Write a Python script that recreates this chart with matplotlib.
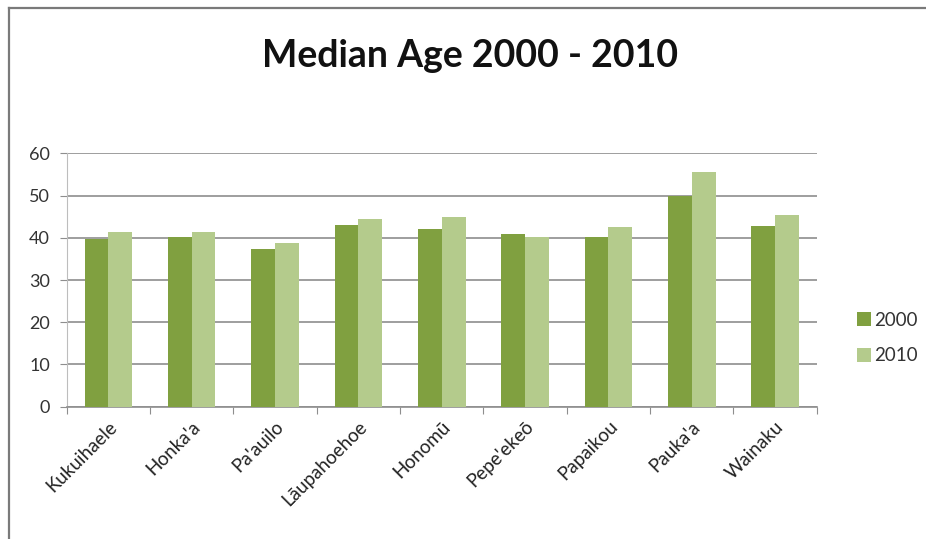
import matplotlib
import numpy as np

matplotlib.use("Agg")
import matplotlib.pyplot as plt  # noqa: E402
from matplotlib.lines import Line2D  # noqa: E402

plt.rcParams["font.family"] = ["Lato", "DejaVu Sans"]

places = [
    "Kukuihaele",
    "Honka'a",
    "Pa'auilo",
    "Lāupahoehoe",
    "Honomū",
    "Pepe'ekeō",
    "Papaikou",
    "Pauka'a",
    "Wainaku",
]
median_2000 = [39.6, 40.1, 37.3, 43.0, 42.2, 40.8, 40.3, 50.0, 42.8]
median_2010 = [41.4, 41.4, 38.8, 44.5, 45.0, 40.2, 42.5, 55.7, 45.5]

color_2000 = "#80a040"
color_2010 = "#b4cb8c"
grid_color = "#8e8e8e"

fig = plt.figure(figsize=(9.26, 5.39), dpi=100)
ax = fig.add_axes([0.072, 0.2455, 0.81, 0.47])

x = np.arange(len(places))
width = 1 / 3.5
ax.bar(x - width / 2, median_2000, width=width, color=color_2000, label="2000", zorder=3)
ax.bar(x + width / 2, median_2010, width=width, color=color_2010, label="2010", zorder=3)

ax.set_xlim(-0.5, len(places) - 0.5)
ax.set_ylim(0, 60)
ax.set_yticks(np.arange(0, 61, 10))
ax.yaxis.grid(True, color=grid_color, linewidth=1.2, zorder=0)
ax.tick_params(axis="y", length=5, color=grid_color, labelsize=13, labelcolor="#333333", pad=7)

# category boundaries get the small tick marks, names sit at the centres
ax.set_xticks(np.arange(-0.5, len(places), 1.0), minor=False)
ax.set_xticklabels([])
ax.set_xticks(x, minor=True)
ax.set_xticklabels(places, minor=True, rotation=45, ha="right", rotation_mode="anchor",
                   fontsize=13.5, color="#222222")
ax.tick_params(axis="x", which="major", length=5, color=grid_color)
ax.tick_params(axis="x", which="minor", length=0, pad=8)

for side in ("top", "right"):
    ax.spines[side].set_visible(False)
ax.spines["left"].set_color("#bdbdbd")
ax.spines["bottom"].set_color(grid_color)
ax.spines["bottom"].set_linewidth(1.2)

fig.text(0.508, 0.897, "Median Age 2000 - 2010", ha="center", va="center",
         fontsize=27, fontweight="bold", color="#111111")

fig.legend(loc="center left", bbox_to_anchor=(0.915, 0.373), frameon=False,
           fontsize=13.5, handlelength=0.75, handleheight=0.75, handletextpad=0.2,
           labelspacing=1.0, borderpad=0, labelcolor="#333333")

# outer chart frame along the top and left edges only
frame = dict(transform=fig.transFigure, color="#7a7a7a", linewidth=1.6)
fig.lines.append(Line2D([0.0095, 1.0], [0.985, 0.985], **frame))
fig.lines.append(Line2D([0.0095, 0.0095], [0.0, 0.985], **frame))

fig.savefig("out.png", dpi=100)
plt.close(fig)
